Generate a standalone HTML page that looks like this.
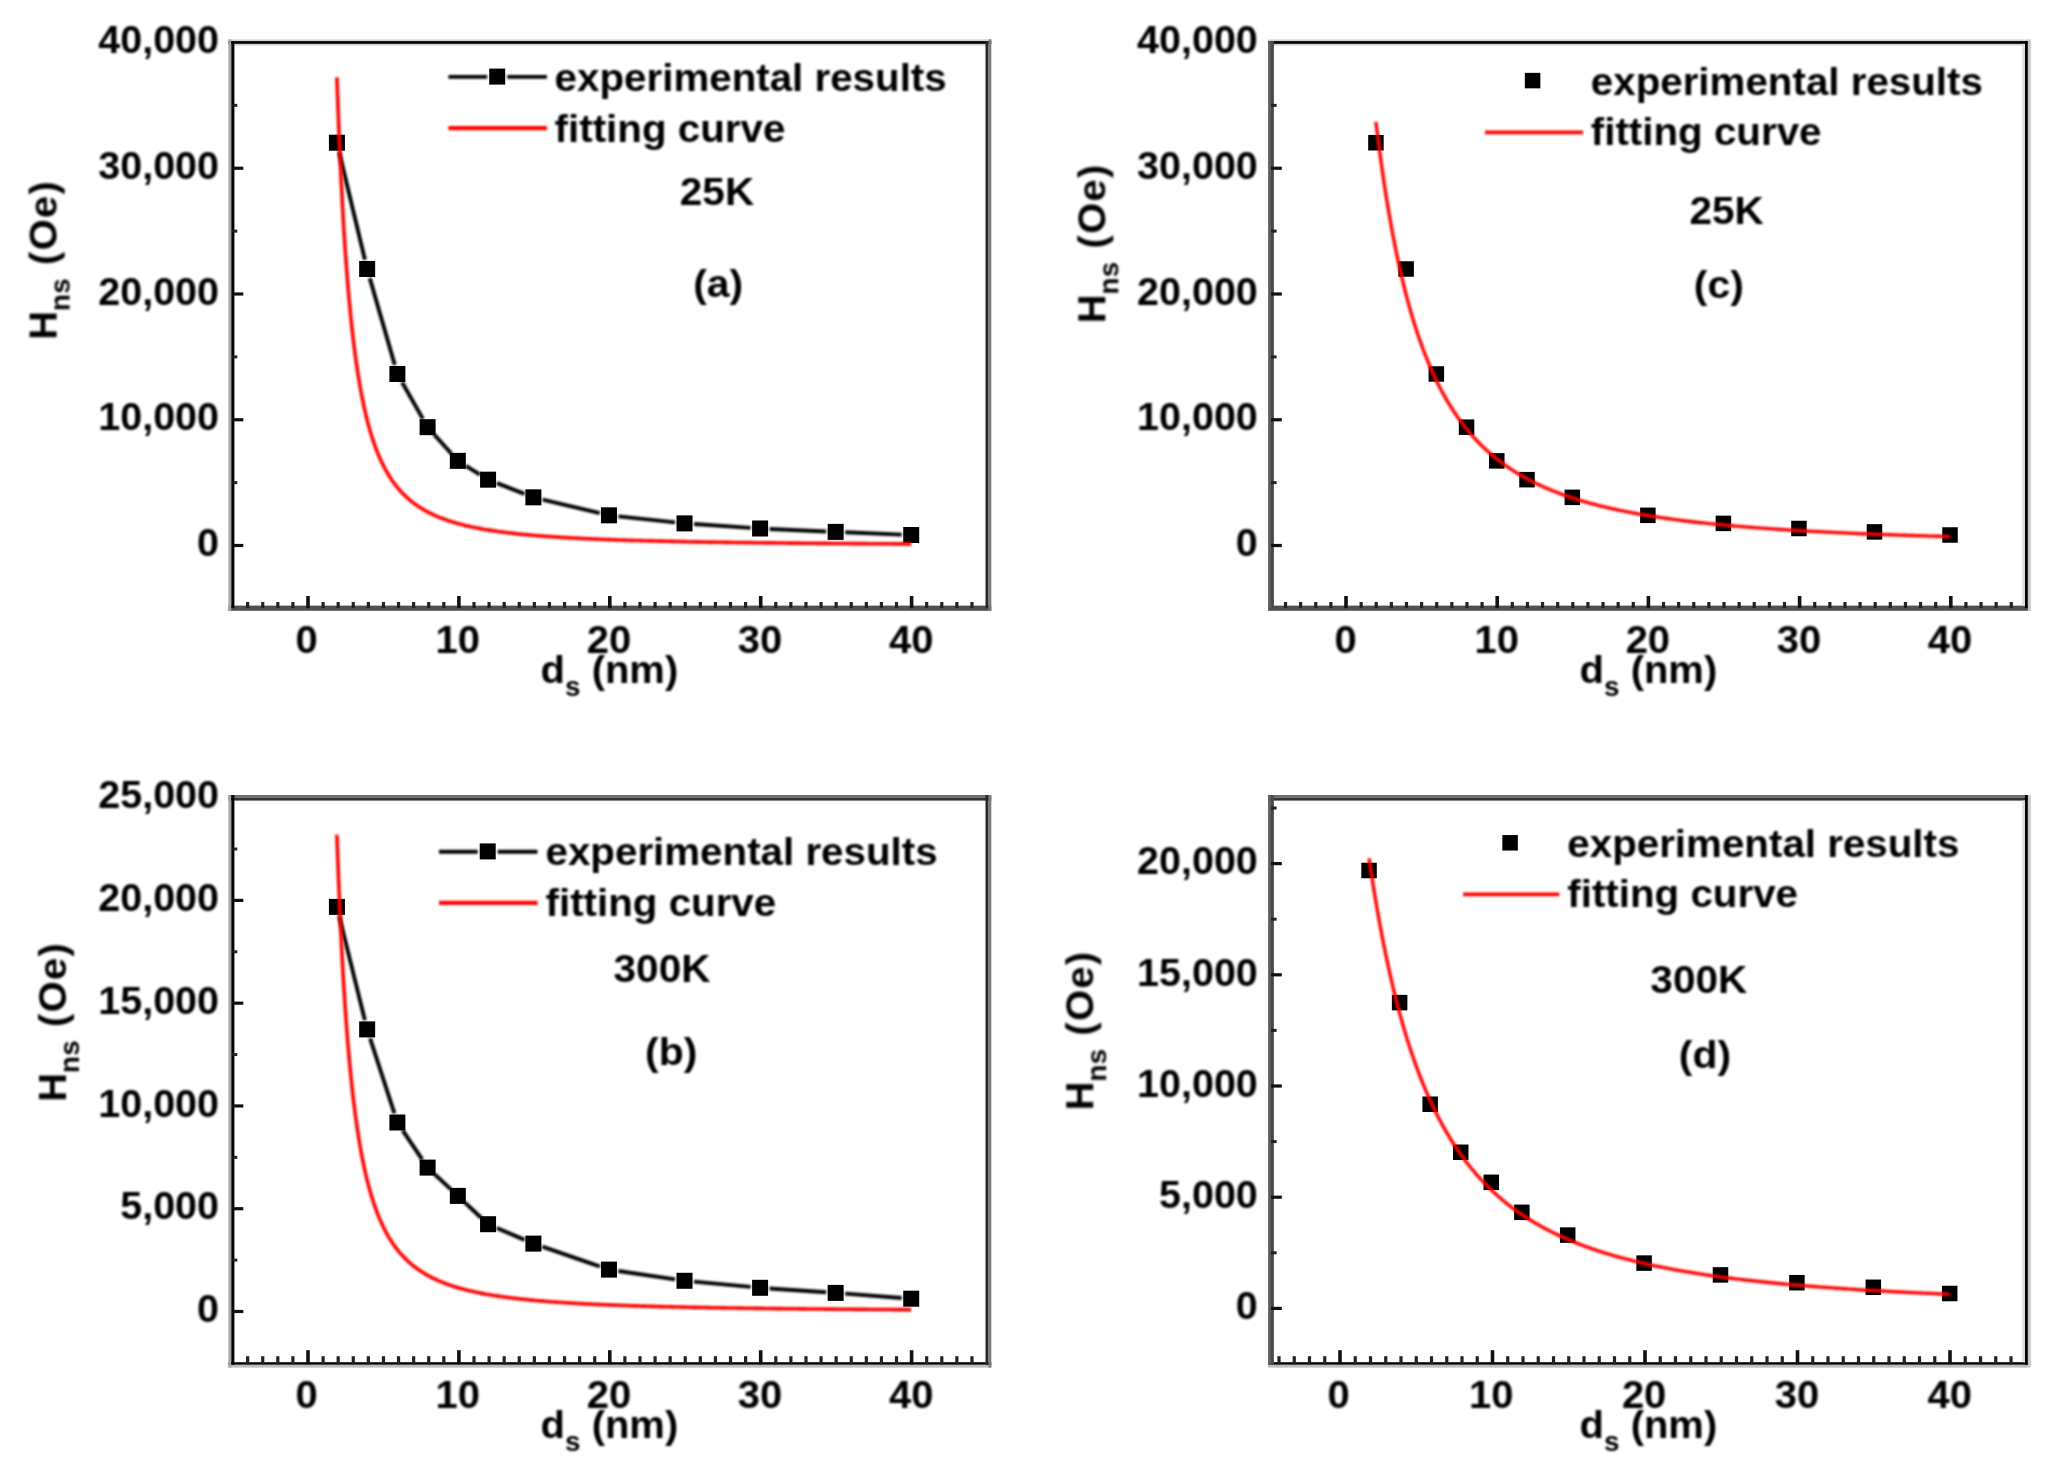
<!DOCTYPE html>
<html lang="en">
<head>
<meta charset="utf-8">
<title>H_ns versus d_s : experimental results and fitting curves</title>
<style>
html,body{margin:0;padding:0;background:#fff;}
body{width:2059px;height:1470px;overflow:hidden;}
svg{display:block;}
svg text{font-family:"Liberation Sans", Arial, Helvetica, sans-serif;font-weight:700;fill:#000;}
.soft{filter:blur(1px);}
</style>
</head>
<body>
<svg width="2059" height="1470" viewBox="0 0 2059 1470">
<rect x="0" y="0" width="2059" height="1470" fill="#ffffff"/>
<g>
<rect x="228.4" y="39.4" width="762.9" height="1.7" fill="#d2d2d2"/>
<rect x="228.4" y="41.1" width="762.9" height="2.8" fill="#000"/>
<rect x="228.4" y="43.9" width="762.9" height="1.7" fill="#d2d2d2"/>
<rect x="228.4" y="605.6" width="762.9" height="5.2" fill="#505050"/>
<rect x="228.4" y="39.4" width="2.9" height="571.4" fill="#a8a8a8"/>
<rect x="231.3" y="41.1" width="3.1" height="567.1" fill="#000"/>
<rect x="985.5" y="41.1" width="3" height="567.1" fill="#262626"/>
<rect x="988.5" y="39.4" width="2.8" height="571.4" fill="#7a7a7a"/>
<line x1="247.64" y1="608.2" x2="247.64" y2="602" stroke="#222" stroke-width="3.2"/>
<line x1="262.73" y1="608.2" x2="262.73" y2="602" stroke="#222" stroke-width="3.2"/>
<line x1="277.82" y1="608.2" x2="277.82" y2="602" stroke="#222" stroke-width="3.2"/>
<line x1="292.91" y1="608.2" x2="292.91" y2="602" stroke="#222" stroke-width="3.2"/>
<line x1="308" y1="608.2" x2="308" y2="596" stroke="#111" stroke-width="3.6"/>
<line x1="323.09" y1="608.2" x2="323.09" y2="602" stroke="#222" stroke-width="3.2"/>
<line x1="338.18" y1="608.2" x2="338.18" y2="602" stroke="#222" stroke-width="3.2"/>
<line x1="353.27" y1="608.2" x2="353.27" y2="602" stroke="#222" stroke-width="3.2"/>
<line x1="368.36" y1="608.2" x2="368.36" y2="602" stroke="#222" stroke-width="3.2"/>
<line x1="383.45" y1="608.2" x2="383.45" y2="602" stroke="#222" stroke-width="3.2"/>
<line x1="398.54" y1="608.2" x2="398.54" y2="602" stroke="#222" stroke-width="3.2"/>
<line x1="413.63" y1="608.2" x2="413.63" y2="602" stroke="#222" stroke-width="3.2"/>
<line x1="428.72" y1="608.2" x2="428.72" y2="602" stroke="#222" stroke-width="3.2"/>
<line x1="443.81" y1="608.2" x2="443.81" y2="602" stroke="#222" stroke-width="3.2"/>
<line x1="458.9" y1="608.2" x2="458.9" y2="596" stroke="#111" stroke-width="3.6"/>
<line x1="473.99" y1="608.2" x2="473.99" y2="602" stroke="#222" stroke-width="3.2"/>
<line x1="489.08" y1="608.2" x2="489.08" y2="602" stroke="#222" stroke-width="3.2"/>
<line x1="504.17" y1="608.2" x2="504.17" y2="602" stroke="#222" stroke-width="3.2"/>
<line x1="519.26" y1="608.2" x2="519.26" y2="602" stroke="#222" stroke-width="3.2"/>
<line x1="534.35" y1="608.2" x2="534.35" y2="602" stroke="#222" stroke-width="3.2"/>
<line x1="549.44" y1="608.2" x2="549.44" y2="602" stroke="#222" stroke-width="3.2"/>
<line x1="564.53" y1="608.2" x2="564.53" y2="602" stroke="#222" stroke-width="3.2"/>
<line x1="579.62" y1="608.2" x2="579.62" y2="602" stroke="#222" stroke-width="3.2"/>
<line x1="594.71" y1="608.2" x2="594.71" y2="602" stroke="#222" stroke-width="3.2"/>
<line x1="609.8" y1="608.2" x2="609.8" y2="596" stroke="#111" stroke-width="3.6"/>
<line x1="624.89" y1="608.2" x2="624.89" y2="602" stroke="#222" stroke-width="3.2"/>
<line x1="639.98" y1="608.2" x2="639.98" y2="602" stroke="#222" stroke-width="3.2"/>
<line x1="655.07" y1="608.2" x2="655.07" y2="602" stroke="#222" stroke-width="3.2"/>
<line x1="670.16" y1="608.2" x2="670.16" y2="602" stroke="#222" stroke-width="3.2"/>
<line x1="685.25" y1="608.2" x2="685.25" y2="602" stroke="#222" stroke-width="3.2"/>
<line x1="700.34" y1="608.2" x2="700.34" y2="602" stroke="#222" stroke-width="3.2"/>
<line x1="715.43" y1="608.2" x2="715.43" y2="602" stroke="#222" stroke-width="3.2"/>
<line x1="730.52" y1="608.2" x2="730.52" y2="602" stroke="#222" stroke-width="3.2"/>
<line x1="745.61" y1="608.2" x2="745.61" y2="602" stroke="#222" stroke-width="3.2"/>
<line x1="760.7" y1="608.2" x2="760.7" y2="596" stroke="#111" stroke-width="3.6"/>
<line x1="775.79" y1="608.2" x2="775.79" y2="602" stroke="#222" stroke-width="3.2"/>
<line x1="790.88" y1="608.2" x2="790.88" y2="602" stroke="#222" stroke-width="3.2"/>
<line x1="805.97" y1="608.2" x2="805.97" y2="602" stroke="#222" stroke-width="3.2"/>
<line x1="821.06" y1="608.2" x2="821.06" y2="602" stroke="#222" stroke-width="3.2"/>
<line x1="836.15" y1="608.2" x2="836.15" y2="602" stroke="#222" stroke-width="3.2"/>
<line x1="851.24" y1="608.2" x2="851.24" y2="602" stroke="#222" stroke-width="3.2"/>
<line x1="866.33" y1="608.2" x2="866.33" y2="602" stroke="#222" stroke-width="3.2"/>
<line x1="881.42" y1="608.2" x2="881.42" y2="602" stroke="#222" stroke-width="3.2"/>
<line x1="896.51" y1="608.2" x2="896.51" y2="602" stroke="#222" stroke-width="3.2"/>
<line x1="911.6" y1="608.2" x2="911.6" y2="596" stroke="#111" stroke-width="3.6"/>
<line x1="926.69" y1="608.2" x2="926.69" y2="602" stroke="#222" stroke-width="3.2"/>
<line x1="941.78" y1="608.2" x2="941.78" y2="602" stroke="#222" stroke-width="3.2"/>
<line x1="956.87" y1="608.2" x2="956.87" y2="602" stroke="#222" stroke-width="3.2"/>
<line x1="971.96" y1="608.2" x2="971.96" y2="602" stroke="#222" stroke-width="3.2"/>
<line x1="232.5" y1="545.5" x2="243.3" y2="545.5" stroke="#111" stroke-width="3.2"/>
<line x1="232.5" y1="482.62" x2="237.3" y2="482.62" stroke="#222" stroke-width="3"/>
<line x1="232.5" y1="419.75" x2="243.3" y2="419.75" stroke="#111" stroke-width="3.2"/>
<line x1="232.5" y1="356.88" x2="237.3" y2="356.88" stroke="#222" stroke-width="3"/>
<line x1="232.5" y1="294" x2="243.3" y2="294" stroke="#111" stroke-width="3.2"/>
<line x1="232.5" y1="231.12" x2="237.3" y2="231.12" stroke="#222" stroke-width="3"/>
<line x1="232.5" y1="168.25" x2="243.3" y2="168.25" stroke="#111" stroke-width="3.2"/>
<line x1="232.5" y1="105.38" x2="237.3" y2="105.38" stroke="#222" stroke-width="3"/>
<rect x="228.4" y="795" width="762.9" height="2.8" fill="#6c6c6c"/>
<rect x="228.4" y="797.8" width="762.9" height="2.8" fill="#323232"/>
<rect x="228.4" y="1362.2" width="762.9" height="2.6" fill="#000"/>
<rect x="228.4" y="1364.8" width="762.9" height="2.8" fill="#bdbdbd"/>
<rect x="228.4" y="795" width="2.9" height="572.6" fill="#a8a8a8"/>
<rect x="231.3" y="795" width="3.1" height="569.8" fill="#000"/>
<rect x="985.5" y="795" width="3" height="569.8" fill="#262626"/>
<rect x="988.5" y="795" width="2.8" height="572.6" fill="#7a7a7a"/>
<line x1="247.64" y1="1364.3" x2="247.64" y2="1356.2" stroke="#222" stroke-width="3.2"/>
<line x1="262.73" y1="1364.3" x2="262.73" y2="1356.2" stroke="#222" stroke-width="3.2"/>
<line x1="277.82" y1="1364.3" x2="277.82" y2="1356.2" stroke="#222" stroke-width="3.2"/>
<line x1="292.91" y1="1364.3" x2="292.91" y2="1356.2" stroke="#222" stroke-width="3.2"/>
<line x1="308" y1="1364.3" x2="308" y2="1350.2" stroke="#111" stroke-width="3.6"/>
<line x1="323.09" y1="1364.3" x2="323.09" y2="1356.2" stroke="#222" stroke-width="3.2"/>
<line x1="338.18" y1="1364.3" x2="338.18" y2="1356.2" stroke="#222" stroke-width="3.2"/>
<line x1="353.27" y1="1364.3" x2="353.27" y2="1356.2" stroke="#222" stroke-width="3.2"/>
<line x1="368.36" y1="1364.3" x2="368.36" y2="1356.2" stroke="#222" stroke-width="3.2"/>
<line x1="383.45" y1="1364.3" x2="383.45" y2="1356.2" stroke="#222" stroke-width="3.2"/>
<line x1="398.54" y1="1364.3" x2="398.54" y2="1356.2" stroke="#222" stroke-width="3.2"/>
<line x1="413.63" y1="1364.3" x2="413.63" y2="1356.2" stroke="#222" stroke-width="3.2"/>
<line x1="428.72" y1="1364.3" x2="428.72" y2="1356.2" stroke="#222" stroke-width="3.2"/>
<line x1="443.81" y1="1364.3" x2="443.81" y2="1356.2" stroke="#222" stroke-width="3.2"/>
<line x1="458.9" y1="1364.3" x2="458.9" y2="1350.2" stroke="#111" stroke-width="3.6"/>
<line x1="473.99" y1="1364.3" x2="473.99" y2="1356.2" stroke="#222" stroke-width="3.2"/>
<line x1="489.08" y1="1364.3" x2="489.08" y2="1356.2" stroke="#222" stroke-width="3.2"/>
<line x1="504.17" y1="1364.3" x2="504.17" y2="1356.2" stroke="#222" stroke-width="3.2"/>
<line x1="519.26" y1="1364.3" x2="519.26" y2="1356.2" stroke="#222" stroke-width="3.2"/>
<line x1="534.35" y1="1364.3" x2="534.35" y2="1356.2" stroke="#222" stroke-width="3.2"/>
<line x1="549.44" y1="1364.3" x2="549.44" y2="1356.2" stroke="#222" stroke-width="3.2"/>
<line x1="564.53" y1="1364.3" x2="564.53" y2="1356.2" stroke="#222" stroke-width="3.2"/>
<line x1="579.62" y1="1364.3" x2="579.62" y2="1356.2" stroke="#222" stroke-width="3.2"/>
<line x1="594.71" y1="1364.3" x2="594.71" y2="1356.2" stroke="#222" stroke-width="3.2"/>
<line x1="609.8" y1="1364.3" x2="609.8" y2="1350.2" stroke="#111" stroke-width="3.6"/>
<line x1="624.89" y1="1364.3" x2="624.89" y2="1356.2" stroke="#222" stroke-width="3.2"/>
<line x1="639.98" y1="1364.3" x2="639.98" y2="1356.2" stroke="#222" stroke-width="3.2"/>
<line x1="655.07" y1="1364.3" x2="655.07" y2="1356.2" stroke="#222" stroke-width="3.2"/>
<line x1="670.16" y1="1364.3" x2="670.16" y2="1356.2" stroke="#222" stroke-width="3.2"/>
<line x1="685.25" y1="1364.3" x2="685.25" y2="1356.2" stroke="#222" stroke-width="3.2"/>
<line x1="700.34" y1="1364.3" x2="700.34" y2="1356.2" stroke="#222" stroke-width="3.2"/>
<line x1="715.43" y1="1364.3" x2="715.43" y2="1356.2" stroke="#222" stroke-width="3.2"/>
<line x1="730.52" y1="1364.3" x2="730.52" y2="1356.2" stroke="#222" stroke-width="3.2"/>
<line x1="745.61" y1="1364.3" x2="745.61" y2="1356.2" stroke="#222" stroke-width="3.2"/>
<line x1="760.7" y1="1364.3" x2="760.7" y2="1350.2" stroke="#111" stroke-width="3.6"/>
<line x1="775.79" y1="1364.3" x2="775.79" y2="1356.2" stroke="#222" stroke-width="3.2"/>
<line x1="790.88" y1="1364.3" x2="790.88" y2="1356.2" stroke="#222" stroke-width="3.2"/>
<line x1="805.97" y1="1364.3" x2="805.97" y2="1356.2" stroke="#222" stroke-width="3.2"/>
<line x1="821.06" y1="1364.3" x2="821.06" y2="1356.2" stroke="#222" stroke-width="3.2"/>
<line x1="836.15" y1="1364.3" x2="836.15" y2="1356.2" stroke="#222" stroke-width="3.2"/>
<line x1="851.24" y1="1364.3" x2="851.24" y2="1356.2" stroke="#222" stroke-width="3.2"/>
<line x1="866.33" y1="1364.3" x2="866.33" y2="1356.2" stroke="#222" stroke-width="3.2"/>
<line x1="881.42" y1="1364.3" x2="881.42" y2="1356.2" stroke="#222" stroke-width="3.2"/>
<line x1="896.51" y1="1364.3" x2="896.51" y2="1356.2" stroke="#222" stroke-width="3.2"/>
<line x1="911.6" y1="1364.3" x2="911.6" y2="1350.2" stroke="#111" stroke-width="3.6"/>
<line x1="926.69" y1="1364.3" x2="926.69" y2="1356.2" stroke="#222" stroke-width="3.2"/>
<line x1="941.78" y1="1364.3" x2="941.78" y2="1356.2" stroke="#222" stroke-width="3.2"/>
<line x1="956.87" y1="1364.3" x2="956.87" y2="1356.2" stroke="#222" stroke-width="3.2"/>
<line x1="971.96" y1="1364.3" x2="971.96" y2="1356.2" stroke="#222" stroke-width="3.2"/>
<line x1="232.5" y1="1311.5" x2="243.3" y2="1311.5" stroke="#111" stroke-width="3.2"/>
<line x1="232.5" y1="1260.11" x2="237.3" y2="1260.11" stroke="#222" stroke-width="3"/>
<line x1="232.5" y1="1208.72" x2="243.3" y2="1208.72" stroke="#111" stroke-width="3.2"/>
<line x1="232.5" y1="1157.34" x2="237.3" y2="1157.34" stroke="#222" stroke-width="3"/>
<line x1="232.5" y1="1105.95" x2="243.3" y2="1105.95" stroke="#111" stroke-width="3.2"/>
<line x1="232.5" y1="1054.56" x2="237.3" y2="1054.56" stroke="#222" stroke-width="3"/>
<line x1="232.5" y1="1003.17" x2="243.3" y2="1003.17" stroke="#111" stroke-width="3.2"/>
<line x1="232.5" y1="951.79" x2="237.3" y2="951.79" stroke="#222" stroke-width="3"/>
<line x1="232.5" y1="900.4" x2="243.3" y2="900.4" stroke="#111" stroke-width="3.2"/>
<line x1="232.5" y1="849.01" x2="237.3" y2="849.01" stroke="#222" stroke-width="3"/>
<rect x="1268.1" y="39.4" width="759.9" height="1.7" fill="#d2d2d2"/>
<rect x="1268.1" y="41.1" width="759.9" height="2.8" fill="#000"/>
<rect x="1268.1" y="43.9" width="759.9" height="1.7" fill="#d2d2d2"/>
<rect x="1268.1" y="605.6" width="759.9" height="5.2" fill="#505050"/>
<rect x="1268.1" y="41.1" width="2.9" height="567.1" fill="#5e5e5e"/>
<rect x="1271" y="41.1" width="2.9" height="567.1" fill="#4a4a4a"/>
<rect x="2022.1" y="43.9" width="2.9" height="561.7" fill="#dedede"/>
<rect x="2025" y="41.1" width="2.9" height="567.1" fill="#000"/>
<rect x="2027.9" y="39.4" width="2.9" height="571.4" fill="#c8c8c8"/>
<line x1="1285.52" y1="608.2" x2="1285.52" y2="602" stroke="#222" stroke-width="3.2"/>
<line x1="1300.64" y1="608.2" x2="1300.64" y2="602" stroke="#222" stroke-width="3.2"/>
<line x1="1315.76" y1="608.2" x2="1315.76" y2="602" stroke="#222" stroke-width="3.2"/>
<line x1="1330.88" y1="608.2" x2="1330.88" y2="602" stroke="#222" stroke-width="3.2"/>
<line x1="1346" y1="608.2" x2="1346" y2="596" stroke="#111" stroke-width="3.6"/>
<line x1="1361.12" y1="608.2" x2="1361.12" y2="602" stroke="#222" stroke-width="3.2"/>
<line x1="1376.24" y1="608.2" x2="1376.24" y2="602" stroke="#222" stroke-width="3.2"/>
<line x1="1391.36" y1="608.2" x2="1391.36" y2="602" stroke="#222" stroke-width="3.2"/>
<line x1="1406.48" y1="608.2" x2="1406.48" y2="602" stroke="#222" stroke-width="3.2"/>
<line x1="1421.6" y1="608.2" x2="1421.6" y2="602" stroke="#222" stroke-width="3.2"/>
<line x1="1436.72" y1="608.2" x2="1436.72" y2="602" stroke="#222" stroke-width="3.2"/>
<line x1="1451.84" y1="608.2" x2="1451.84" y2="602" stroke="#222" stroke-width="3.2"/>
<line x1="1466.96" y1="608.2" x2="1466.96" y2="602" stroke="#222" stroke-width="3.2"/>
<line x1="1482.08" y1="608.2" x2="1482.08" y2="602" stroke="#222" stroke-width="3.2"/>
<line x1="1497.2" y1="608.2" x2="1497.2" y2="596" stroke="#111" stroke-width="3.6"/>
<line x1="1512.32" y1="608.2" x2="1512.32" y2="602" stroke="#222" stroke-width="3.2"/>
<line x1="1527.44" y1="608.2" x2="1527.44" y2="602" stroke="#222" stroke-width="3.2"/>
<line x1="1542.56" y1="608.2" x2="1542.56" y2="602" stroke="#222" stroke-width="3.2"/>
<line x1="1557.68" y1="608.2" x2="1557.68" y2="602" stroke="#222" stroke-width="3.2"/>
<line x1="1572.8" y1="608.2" x2="1572.8" y2="602" stroke="#222" stroke-width="3.2"/>
<line x1="1587.92" y1="608.2" x2="1587.92" y2="602" stroke="#222" stroke-width="3.2"/>
<line x1="1603.04" y1="608.2" x2="1603.04" y2="602" stroke="#222" stroke-width="3.2"/>
<line x1="1618.16" y1="608.2" x2="1618.16" y2="602" stroke="#222" stroke-width="3.2"/>
<line x1="1633.28" y1="608.2" x2="1633.28" y2="602" stroke="#222" stroke-width="3.2"/>
<line x1="1648.4" y1="608.2" x2="1648.4" y2="596" stroke="#111" stroke-width="3.6"/>
<line x1="1663.52" y1="608.2" x2="1663.52" y2="602" stroke="#222" stroke-width="3.2"/>
<line x1="1678.64" y1="608.2" x2="1678.64" y2="602" stroke="#222" stroke-width="3.2"/>
<line x1="1693.76" y1="608.2" x2="1693.76" y2="602" stroke="#222" stroke-width="3.2"/>
<line x1="1708.88" y1="608.2" x2="1708.88" y2="602" stroke="#222" stroke-width="3.2"/>
<line x1="1724" y1="608.2" x2="1724" y2="602" stroke="#222" stroke-width="3.2"/>
<line x1="1739.12" y1="608.2" x2="1739.12" y2="602" stroke="#222" stroke-width="3.2"/>
<line x1="1754.24" y1="608.2" x2="1754.24" y2="602" stroke="#222" stroke-width="3.2"/>
<line x1="1769.36" y1="608.2" x2="1769.36" y2="602" stroke="#222" stroke-width="3.2"/>
<line x1="1784.48" y1="608.2" x2="1784.48" y2="602" stroke="#222" stroke-width="3.2"/>
<line x1="1799.6" y1="608.2" x2="1799.6" y2="596" stroke="#111" stroke-width="3.6"/>
<line x1="1814.72" y1="608.2" x2="1814.72" y2="602" stroke="#222" stroke-width="3.2"/>
<line x1="1829.84" y1="608.2" x2="1829.84" y2="602" stroke="#222" stroke-width="3.2"/>
<line x1="1844.96" y1="608.2" x2="1844.96" y2="602" stroke="#222" stroke-width="3.2"/>
<line x1="1860.08" y1="608.2" x2="1860.08" y2="602" stroke="#222" stroke-width="3.2"/>
<line x1="1875.2" y1="608.2" x2="1875.2" y2="602" stroke="#222" stroke-width="3.2"/>
<line x1="1890.32" y1="608.2" x2="1890.32" y2="602" stroke="#222" stroke-width="3.2"/>
<line x1="1905.44" y1="608.2" x2="1905.44" y2="602" stroke="#222" stroke-width="3.2"/>
<line x1="1920.56" y1="608.2" x2="1920.56" y2="602" stroke="#222" stroke-width="3.2"/>
<line x1="1935.68" y1="608.2" x2="1935.68" y2="602" stroke="#222" stroke-width="3.2"/>
<line x1="1950.8" y1="608.2" x2="1950.8" y2="596" stroke="#111" stroke-width="3.6"/>
<line x1="1965.92" y1="608.2" x2="1965.92" y2="602" stroke="#222" stroke-width="3.2"/>
<line x1="1981.04" y1="608.2" x2="1981.04" y2="602" stroke="#222" stroke-width="3.2"/>
<line x1="1996.16" y1="608.2" x2="1996.16" y2="602" stroke="#222" stroke-width="3.2"/>
<line x1="2011.28" y1="608.2" x2="2011.28" y2="602" stroke="#222" stroke-width="3.2"/>
<line x1="1271" y1="545.5" x2="1281.8" y2="545.5" stroke="#111" stroke-width="3.2"/>
<line x1="1271" y1="482.62" x2="1276.6" y2="482.62" stroke="#222" stroke-width="3"/>
<line x1="1271" y1="419.75" x2="1281.8" y2="419.75" stroke="#111" stroke-width="3.2"/>
<line x1="1271" y1="356.88" x2="1276.6" y2="356.88" stroke="#222" stroke-width="3"/>
<line x1="1271" y1="294" x2="1281.8" y2="294" stroke="#111" stroke-width="3.2"/>
<line x1="1271" y1="231.12" x2="1276.6" y2="231.12" stroke="#222" stroke-width="3"/>
<line x1="1271" y1="168.25" x2="1281.8" y2="168.25" stroke="#111" stroke-width="3.2"/>
<line x1="1271" y1="105.38" x2="1276.6" y2="105.38" stroke="#222" stroke-width="3"/>
<rect x="1268.1" y="795" width="759.9" height="2.8" fill="#6c6c6c"/>
<rect x="1268.1" y="797.8" width="759.9" height="2.8" fill="#323232"/>
<rect x="1268.1" y="1362.2" width="759.9" height="2.6" fill="#000"/>
<rect x="1268.1" y="1364.8" width="759.9" height="2.8" fill="#bdbdbd"/>
<rect x="1268.1" y="795" width="2.9" height="569.8" fill="#5e5e5e"/>
<rect x="1271" y="795" width="2.9" height="569.8" fill="#4a4a4a"/>
<rect x="2022.1" y="800.6" width="2.9" height="561.6" fill="#dedede"/>
<rect x="2025" y="795" width="2.9" height="569.8" fill="#000"/>
<rect x="2027.9" y="795" width="2.9" height="572.6" fill="#c8c8c8"/>
<line x1="1279" y1="1364.3" x2="1279" y2="1356.2" stroke="#222" stroke-width="3.2"/>
<line x1="1294.25" y1="1364.3" x2="1294.25" y2="1356.2" stroke="#222" stroke-width="3.2"/>
<line x1="1309.5" y1="1364.3" x2="1309.5" y2="1356.2" stroke="#222" stroke-width="3.2"/>
<line x1="1324.75" y1="1364.3" x2="1324.75" y2="1356.2" stroke="#222" stroke-width="3.2"/>
<line x1="1340" y1="1364.3" x2="1340" y2="1350.2" stroke="#111" stroke-width="3.6"/>
<line x1="1355.25" y1="1364.3" x2="1355.25" y2="1356.2" stroke="#222" stroke-width="3.2"/>
<line x1="1370.5" y1="1364.3" x2="1370.5" y2="1356.2" stroke="#222" stroke-width="3.2"/>
<line x1="1385.75" y1="1364.3" x2="1385.75" y2="1356.2" stroke="#222" stroke-width="3.2"/>
<line x1="1401" y1="1364.3" x2="1401" y2="1356.2" stroke="#222" stroke-width="3.2"/>
<line x1="1416.25" y1="1364.3" x2="1416.25" y2="1356.2" stroke="#222" stroke-width="3.2"/>
<line x1="1431.5" y1="1364.3" x2="1431.5" y2="1356.2" stroke="#222" stroke-width="3.2"/>
<line x1="1446.75" y1="1364.3" x2="1446.75" y2="1356.2" stroke="#222" stroke-width="3.2"/>
<line x1="1462" y1="1364.3" x2="1462" y2="1356.2" stroke="#222" stroke-width="3.2"/>
<line x1="1477.25" y1="1364.3" x2="1477.25" y2="1356.2" stroke="#222" stroke-width="3.2"/>
<line x1="1492.5" y1="1364.3" x2="1492.5" y2="1350.2" stroke="#111" stroke-width="3.6"/>
<line x1="1507.75" y1="1364.3" x2="1507.75" y2="1356.2" stroke="#222" stroke-width="3.2"/>
<line x1="1523" y1="1364.3" x2="1523" y2="1356.2" stroke="#222" stroke-width="3.2"/>
<line x1="1538.25" y1="1364.3" x2="1538.25" y2="1356.2" stroke="#222" stroke-width="3.2"/>
<line x1="1553.5" y1="1364.3" x2="1553.5" y2="1356.2" stroke="#222" stroke-width="3.2"/>
<line x1="1568.75" y1="1364.3" x2="1568.75" y2="1356.2" stroke="#222" stroke-width="3.2"/>
<line x1="1584" y1="1364.3" x2="1584" y2="1356.2" stroke="#222" stroke-width="3.2"/>
<line x1="1599.25" y1="1364.3" x2="1599.25" y2="1356.2" stroke="#222" stroke-width="3.2"/>
<line x1="1614.5" y1="1364.3" x2="1614.5" y2="1356.2" stroke="#222" stroke-width="3.2"/>
<line x1="1629.75" y1="1364.3" x2="1629.75" y2="1356.2" stroke="#222" stroke-width="3.2"/>
<line x1="1645" y1="1364.3" x2="1645" y2="1350.2" stroke="#111" stroke-width="3.6"/>
<line x1="1660.25" y1="1364.3" x2="1660.25" y2="1356.2" stroke="#222" stroke-width="3.2"/>
<line x1="1675.5" y1="1364.3" x2="1675.5" y2="1356.2" stroke="#222" stroke-width="3.2"/>
<line x1="1690.75" y1="1364.3" x2="1690.75" y2="1356.2" stroke="#222" stroke-width="3.2"/>
<line x1="1706" y1="1364.3" x2="1706" y2="1356.2" stroke="#222" stroke-width="3.2"/>
<line x1="1721.25" y1="1364.3" x2="1721.25" y2="1356.2" stroke="#222" stroke-width="3.2"/>
<line x1="1736.5" y1="1364.3" x2="1736.5" y2="1356.2" stroke="#222" stroke-width="3.2"/>
<line x1="1751.75" y1="1364.3" x2="1751.75" y2="1356.2" stroke="#222" stroke-width="3.2"/>
<line x1="1767" y1="1364.3" x2="1767" y2="1356.2" stroke="#222" stroke-width="3.2"/>
<line x1="1782.25" y1="1364.3" x2="1782.25" y2="1356.2" stroke="#222" stroke-width="3.2"/>
<line x1="1797.5" y1="1364.3" x2="1797.5" y2="1350.2" stroke="#111" stroke-width="3.6"/>
<line x1="1812.75" y1="1364.3" x2="1812.75" y2="1356.2" stroke="#222" stroke-width="3.2"/>
<line x1="1828" y1="1364.3" x2="1828" y2="1356.2" stroke="#222" stroke-width="3.2"/>
<line x1="1843.25" y1="1364.3" x2="1843.25" y2="1356.2" stroke="#222" stroke-width="3.2"/>
<line x1="1858.5" y1="1364.3" x2="1858.5" y2="1356.2" stroke="#222" stroke-width="3.2"/>
<line x1="1873.75" y1="1364.3" x2="1873.75" y2="1356.2" stroke="#222" stroke-width="3.2"/>
<line x1="1889" y1="1364.3" x2="1889" y2="1356.2" stroke="#222" stroke-width="3.2"/>
<line x1="1904.25" y1="1364.3" x2="1904.25" y2="1356.2" stroke="#222" stroke-width="3.2"/>
<line x1="1919.5" y1="1364.3" x2="1919.5" y2="1356.2" stroke="#222" stroke-width="3.2"/>
<line x1="1934.75" y1="1364.3" x2="1934.75" y2="1356.2" stroke="#222" stroke-width="3.2"/>
<line x1="1950" y1="1364.3" x2="1950" y2="1350.2" stroke="#111" stroke-width="3.6"/>
<line x1="1965.25" y1="1364.3" x2="1965.25" y2="1356.2" stroke="#222" stroke-width="3.2"/>
<line x1="1980.5" y1="1364.3" x2="1980.5" y2="1356.2" stroke="#222" stroke-width="3.2"/>
<line x1="1995.75" y1="1364.3" x2="1995.75" y2="1356.2" stroke="#222" stroke-width="3.2"/>
<line x1="2011" y1="1364.3" x2="2011" y2="1356.2" stroke="#222" stroke-width="3.2"/>
<line x1="1271" y1="1308.4" x2="1281.8" y2="1308.4" stroke="#111" stroke-width="3.2"/>
<line x1="1271" y1="1252.8" x2="1276.6" y2="1252.8" stroke="#222" stroke-width="3"/>
<line x1="1271" y1="1197.2" x2="1281.8" y2="1197.2" stroke="#111" stroke-width="3.2"/>
<line x1="1271" y1="1141.6" x2="1276.6" y2="1141.6" stroke="#222" stroke-width="3"/>
<line x1="1271" y1="1086" x2="1281.8" y2="1086" stroke="#111" stroke-width="3.2"/>
<line x1="1271" y1="1030.4" x2="1276.6" y2="1030.4" stroke="#222" stroke-width="3"/>
<line x1="1271" y1="974.8" x2="1281.8" y2="974.8" stroke="#111" stroke-width="3.2"/>
<line x1="1271" y1="919.2" x2="1276.6" y2="919.2" stroke="#222" stroke-width="3"/>
<line x1="1271" y1="863.6" x2="1281.8" y2="863.6" stroke="#111" stroke-width="3.2"/>
<line x1="1271" y1="808" x2="1276.6" y2="808" stroke="#222" stroke-width="3"/>
</g>
<g class="soft">
<text transform="translate(219,556.2) scale(1.012,1)" text-anchor="end" font-size="39">0</text>
<text transform="translate(219,430.45) scale(1.012,1)" text-anchor="end" font-size="39">10,000</text>
<text transform="translate(219,304.7) scale(1.012,1)" text-anchor="end" font-size="39">20,000</text>
<text transform="translate(219,178.95) scale(1.012,1)" text-anchor="end" font-size="39">30,000</text>
<text transform="translate(219,53.2) scale(1.012,1)" text-anchor="end" font-size="39">40,000</text>
<text transform="translate(306.7,653) scale(1.025,1)" text-anchor="middle" font-size="39">0</text>
<text transform="translate(457.83,653) scale(1.025,1)" text-anchor="middle" font-size="39">10</text>
<text transform="translate(608.96,653) scale(1.025,1)" text-anchor="middle" font-size="39">20</text>
<text transform="translate(760.09,653) scale(1.025,1)" text-anchor="middle" font-size="39">30</text>
<text transform="translate(911.22,653) scale(1.025,1)" text-anchor="middle" font-size="39">40</text>
<text transform="translate(540.6,683.4) scale(1.025,1)" font-size="39">d<tspan font-size="27.2" dy="13">s</tspan><tspan dy="-13"> (nm)</tspan></text>
<text transform="translate(56.6,339.8) rotate(-90) scale(1.025,1)" font-size="39">H<tspan font-size="27.2" dy="13">ns</tspan><tspan dy="-13" dx="1" letter-spacing="1.25"> (Oe)</tspan></text>
<line x1="339.14" y1="151.96" x2="364.94" y2="259.74" stroke="#000" stroke-width="3.9"/>
<line x1="369.78" y1="278.11" x2="394.75" y2="364.85" stroke="#000" stroke-width="3.9"/>
<line x1="402.07" y1="382.24" x2="422.91" y2="418.91" stroke="#000" stroke-width="3.9"/>
<line x1="433.95" y1="434.24" x2="451.49" y2="453.8" stroke="#000" stroke-width="3.9"/>
<line x1="465.9" y1="465.89" x2="479.99" y2="474.65" stroke="#000" stroke-width="3.9"/>
<line x1="496.91" y1="483.12" x2="524.54" y2="493.89" stroke="#000" stroke-width="3.9"/>
<line x1="542.64" y1="499.54" x2="599.72" y2="513.12" stroke="#000" stroke-width="3.9"/>
<line x1="618.41" y1="516.33" x2="675.08" y2="522.38" stroke="#000" stroke-width="3.9"/>
<line x1="694" y1="524.03" x2="750.61" y2="527.86" stroke="#000" stroke-width="3.9"/>
<line x1="769.58" y1="528.93" x2="826.16" y2="531.47" stroke="#000" stroke-width="3.9"/>
<line x1="845.15" y1="532.28" x2="901.73" y2="534.61" stroke="#000" stroke-width="3.9"/>
<line x1="448.4" y1="76.9" x2="487.2" y2="76.9" stroke="#000" stroke-width="3.9"/>
<line x1="507.2" y1="76.9" x2="546.9" y2="76.9" stroke="#000" stroke-width="3.9"/>
<text transform="translate(219,1322.2) scale(1.012,1)" text-anchor="end" font-size="39">0</text>
<text transform="translate(219,1219.42) scale(1.012,1)" text-anchor="end" font-size="39">5,000</text>
<text transform="translate(219,1116.65) scale(1.012,1)" text-anchor="end" font-size="39">10,000</text>
<text transform="translate(219,1013.88) scale(1.012,1)" text-anchor="end" font-size="39">15,000</text>
<text transform="translate(219,911.1) scale(1.012,1)" text-anchor="end" font-size="39">20,000</text>
<text transform="translate(219,808.33) scale(1.012,1)" text-anchor="end" font-size="39">25,000</text>
<text transform="translate(306.7,1407.7) scale(1.025,1)" text-anchor="middle" font-size="39">0</text>
<text transform="translate(457.83,1407.7) scale(1.025,1)" text-anchor="middle" font-size="39">10</text>
<text transform="translate(608.96,1407.7) scale(1.025,1)" text-anchor="middle" font-size="39">20</text>
<text transform="translate(760.09,1407.7) scale(1.025,1)" text-anchor="middle" font-size="39">30</text>
<text transform="translate(911.22,1407.7) scale(1.025,1)" text-anchor="middle" font-size="39">40</text>
<text transform="translate(540.6,1438.4) scale(1.025,1)" font-size="39">d<tspan font-size="27.2" dy="13">s</tspan><tspan dy="-13"> (nm)</tspan></text>
<text transform="translate(66,1101.8) rotate(-90) scale(1.025,1)" font-size="39">H<tspan font-size="27.2" dy="13">ns</tspan><tspan dy="-13" dx="1" letter-spacing="1.25"> (Oe)</tspan></text>
<line x1="339.2" y1="916.12" x2="364.88" y2="1020.18" stroke="#000" stroke-width="3.9"/>
<line x1="370.09" y1="1038.44" x2="394.44" y2="1113.46" stroke="#000" stroke-width="3.9"/>
<line x1="402.67" y1="1130.39" x2="422.31" y2="1159.7" stroke="#000" stroke-width="3.9"/>
<line x1="434.54" y1="1174.09" x2="450.9" y2="1189.41" stroke="#000" stroke-width="3.9"/>
<line x1="464.76" y1="1202.39" x2="481.12" y2="1217.71" stroke="#000" stroke-width="3.9"/>
<line x1="496.79" y1="1227.94" x2="524.66" y2="1239.87" stroke="#000" stroke-width="3.9"/>
<line x1="542.38" y1="1246.7" x2="599.98" y2="1266.52" stroke="#000" stroke-width="3.9"/>
<line x1="618.36" y1="1271" x2="675.13" y2="1279.4" stroke="#000" stroke-width="3.9"/>
<line x1="693.98" y1="1281.67" x2="750.63" y2="1286.92" stroke="#000" stroke-width="3.9"/>
<line x1="769.57" y1="1288.44" x2="826.18" y2="1292.26" stroke="#000" stroke-width="3.9"/>
<line x1="845.13" y1="1293.62" x2="901.75" y2="1297.97" stroke="#000" stroke-width="3.9"/>
<line x1="439" y1="851.7" x2="477.7" y2="851.7" stroke="#000" stroke-width="3.9"/>
<line x1="497.7" y1="851.7" x2="537.5" y2="851.7" stroke="#000" stroke-width="3.9"/>
<text transform="translate(1257.8,556.2) scale(1.012,1)" text-anchor="end" font-size="39">0</text>
<text transform="translate(1257.8,430.45) scale(1.012,1)" text-anchor="end" font-size="39">10,000</text>
<text transform="translate(1257.8,304.7) scale(1.012,1)" text-anchor="end" font-size="39">20,000</text>
<text transform="translate(1257.8,178.95) scale(1.012,1)" text-anchor="end" font-size="39">30,000</text>
<text transform="translate(1257.8,53.2) scale(1.012,1)" text-anchor="end" font-size="39">40,000</text>
<text transform="translate(1345.7,653) scale(1.025,1)" text-anchor="middle" font-size="39">0</text>
<text transform="translate(1496.78,653) scale(1.025,1)" text-anchor="middle" font-size="39">10</text>
<text transform="translate(1647.86,653) scale(1.025,1)" text-anchor="middle" font-size="39">20</text>
<text transform="translate(1798.94,653) scale(1.025,1)" text-anchor="middle" font-size="39">30</text>
<text transform="translate(1950.02,653) scale(1.025,1)" text-anchor="middle" font-size="39">40</text>
<text transform="translate(1579.6,683.4) scale(1.025,1)" font-size="39">d<tspan font-size="27.2" dy="13">s</tspan><tspan dy="-13"> (nm)</tspan></text>
<text transform="translate(1105.3,323.3) rotate(-90) scale(1.025,1)" font-size="39">H<tspan font-size="27.2" dy="13">ns</tspan><tspan dy="-13" dx="1" letter-spacing="1.25"> (Oe)</tspan></text>
<text transform="translate(1257.8,1319.1) scale(1.012,1)" text-anchor="end" font-size="39">0</text>
<text transform="translate(1257.8,1207.9) scale(1.012,1)" text-anchor="end" font-size="39">5,000</text>
<text transform="translate(1257.8,1096.7) scale(1.012,1)" text-anchor="end" font-size="39">10,000</text>
<text transform="translate(1257.8,985.5) scale(1.012,1)" text-anchor="end" font-size="39">15,000</text>
<text transform="translate(1257.8,874.3) scale(1.012,1)" text-anchor="end" font-size="39">20,000</text>
<text transform="translate(1338.5,1407.7) scale(1.025,1)" text-anchor="middle" font-size="39">0</text>
<text transform="translate(1491.3,1407.7) scale(1.025,1)" text-anchor="middle" font-size="39">10</text>
<text transform="translate(1644.1,1407.7) scale(1.025,1)" text-anchor="middle" font-size="39">20</text>
<text transform="translate(1796.9,1407.7) scale(1.025,1)" text-anchor="middle" font-size="39">30</text>
<text transform="translate(1949.7,1407.7) scale(1.025,1)" text-anchor="middle" font-size="39">40</text>
<text transform="translate(1579.6,1438.4) scale(1.025,1)" font-size="39">d<tspan font-size="27.2" dy="13">s</tspan><tspan dy="-13"> (nm)</tspan></text>
<text transform="translate(1093.2,1110.4) rotate(-90) scale(1.025,1)" font-size="39">H<tspan font-size="27.2" dy="13">ns</tspan><tspan dy="-13" dx="1" letter-spacing="1.25"> (Oe)</tspan></text>
</g>
<g>
<rect x="328.93" y="134.72" width="16" height="16" fill="#000"/>
<rect x="359.15" y="260.98" width="16" height="16" fill="#000"/>
<rect x="389.38" y="365.98" width="16" height="16" fill="#000"/>
<rect x="419.6" y="419.17" width="16" height="16" fill="#000"/>
<rect x="449.83" y="452.87" width="16" height="16" fill="#000"/>
<rect x="480.06" y="471.67" width="16" height="16" fill="#000"/>
<rect x="525.39" y="489.34" width="16" height="16" fill="#000"/>
<rect x="600.96" y="507.32" width="16" height="16" fill="#000"/>
<rect x="676.52" y="515.39" width="16" height="16" fill="#000"/>
<rect x="752.09" y="520.5" width="16" height="16" fill="#000"/>
<rect x="827.65" y="523.89" width="16" height="16" fill="#000"/>
<rect x="903.22" y="527" width="16" height="16" fill="#000"/>
<rect x="489.2" y="68.6" width="16" height="16" fill="#000"/>
<rect x="328.93" y="898.9" width="16" height="16" fill="#000"/>
<rect x="359.15" y="1021.4" width="16" height="16" fill="#000"/>
<rect x="389.38" y="1114.5" width="16" height="16" fill="#000"/>
<rect x="419.6" y="1159.59" width="16" height="16" fill="#000"/>
<rect x="449.83" y="1187.9" width="16" height="16" fill="#000"/>
<rect x="480.06" y="1216.2" width="16" height="16" fill="#000"/>
<rect x="525.39" y="1235.61" width="16" height="16" fill="#000"/>
<rect x="600.96" y="1261.61" width="16" height="16" fill="#000"/>
<rect x="676.52" y="1272.79" width="16" height="16" fill="#000"/>
<rect x="752.09" y="1279.8" width="16" height="16" fill="#000"/>
<rect x="827.65" y="1284.9" width="16" height="16" fill="#000"/>
<rect x="903.22" y="1290.69" width="16" height="16" fill="#000"/>
<rect x="479.7" y="843.4" width="16" height="16" fill="#000"/>
<rect x="1368.17" y="134.97" width="15.5" height="15.5" fill="#000"/>
<rect x="1398.38" y="261.23" width="15.5" height="15.5" fill="#000"/>
<rect x="1428.6" y="366.23" width="15.5" height="15.5" fill="#000"/>
<rect x="1458.81" y="419.42" width="15.5" height="15.5" fill="#000"/>
<rect x="1489.03" y="453.12" width="15.5" height="15.5" fill="#000"/>
<rect x="1519.25" y="471.92" width="15.5" height="15.5" fill="#000"/>
<rect x="1564.57" y="489.59" width="15.5" height="15.5" fill="#000"/>
<rect x="1640.11" y="507.57" width="15.5" height="15.5" fill="#000"/>
<rect x="1715.65" y="515.64" width="15.5" height="15.5" fill="#000"/>
<rect x="1791.19" y="520.75" width="15.5" height="15.5" fill="#000"/>
<rect x="1866.73" y="524.14" width="15.5" height="15.5" fill="#000"/>
<rect x="1942.27" y="527.25" width="15.5" height="15.5" fill="#000"/>
<rect x="1524.85" y="72.85" width="15.5" height="15.5" fill="#000"/>
<rect x="1361.31" y="862.74" width="15.5" height="15.5" fill="#000"/>
<rect x="1391.87" y="994.85" width="15.5" height="15.5" fill="#000"/>
<rect x="1422.43" y="1096.49" width="15.5" height="15.5" fill="#000"/>
<rect x="1452.99" y="1144.53" width="15.5" height="15.5" fill="#000"/>
<rect x="1483.55" y="1174.55" width="15.5" height="15.5" fill="#000"/>
<rect x="1514.11" y="1204.57" width="15.5" height="15.5" fill="#000"/>
<rect x="1559.95" y="1227.35" width="15.5" height="15.5" fill="#000"/>
<rect x="1636.35" y="1255.35" width="15.5" height="15.5" fill="#000"/>
<rect x="1712.75" y="1267.16" width="15.5" height="15.5" fill="#000"/>
<rect x="1789.15" y="1274.96" width="15.5" height="15.5" fill="#000"/>
<rect x="1865.55" y="1279.52" width="15.5" height="15.5" fill="#000"/>
<rect x="1941.95" y="1285.75" width="15.5" height="15.5" fill="#000"/>
<rect x="1502.35" y="835.05" width="15.5" height="15.5" fill="#000"/>
</g>
<g class="soft">
<path d="M336.93,77.19 L336.93,77.29 L336.94,77.61 L336.96,78.14 L336.98,78.87 L337.02,79.82 L337.06,80.97 L337.1,82.32 L337.16,83.88 L337.22,85.63 L337.28,87.58 L337.36,89.71 L337.44,92.04 L337.53,94.54 L337.63,97.22 L337.73,100.07 L337.84,103.09 L337.96,106.27 L338.09,109.6 L338.22,113.09 L338.36,116.71 L338.51,120.47 L338.66,124.36 L338.82,128.38 L338.99,132.51 L339.17,136.75 L339.35,141.09 L339.54,145.53 L339.74,150.06 L339.94,154.67 L340.16,159.36 L340.38,164.11 L340.6,168.93 L340.83,173.81 L341.08,178.73 L341.32,183.7 L341.58,188.71 L341.84,193.75 L342.11,198.81 L342.39,203.89 L342.67,208.99 L342.96,214.1 L343.26,219.21 L343.56,224.32 L343.87,229.43 L344.19,234.53 L344.52,239.61 L344.85,244.68 L345.2,249.72 L345.54,254.73 L345.9,259.72 L346.26,264.68 L346.63,269.6 L347.01,274.48 L347.39,279.32 L347.78,284.11 L348.18,288.86 L348.59,293.56 L349,298.21 L349.42,302.81 L349.85,307.36 L350.28,311.84 L350.72,316.28 L351.17,320.65 L351.63,324.97 L352.09,329.22 L352.56,333.41 L353.04,337.55 L353.52,341.62 L354.01,345.62 L354.51,349.57 L355.02,353.45 L355.53,357.27 L356.05,361.02 L356.58,364.71 L357.12,368.34 L357.66,371.9 L358.21,375.4 L358.76,378.84 L359.33,382.21 L359.9,385.52 L360.48,388.77 L361.06,391.96 L361.65,395.09 L362.25,398.16 L362.86,401.17 L363.47,404.12 L364.09,407.01 L364.72,409.85 L365.36,412.62 L366,415.35 L366.65,418.01 L367.31,420.62 L367.97,423.18 L368.64,425.69 L369.32,428.14 L370.01,430.55 L370.7,432.9 L371.4,435.2 L372.11,437.46 L372.82,439.66 L373.54,441.82 L374.27,443.94 L375.01,446.01 L375.75,448.03 L376.5,450.01 L377.26,451.95 L378.02,453.85 L378.79,455.7 L379.57,457.52 L380.36,459.29 L381.15,461.03 L381.95,462.73 L382.76,464.39 L383.57,466.01 L384.39,467.6 L385.22,469.16 L386.06,470.68 L386.9,472.17 L387.75,473.62 L388.61,475.05 L389.48,476.44 L390.35,477.8 L391.23,479.13 L392.12,480.44 L393.01,481.71 L393.91,482.96 L394.82,484.18 L395.73,485.37 L396.66,486.53 L397.59,487.68 L398.52,488.79 L399.47,489.88 L400.42,490.95 L401.38,491.99 L402.34,493.02 L403.31,494.02 L404.29,494.99 L405.28,495.95 L406.28,496.89 L407.28,497.8 L408.29,498.7 L409.3,499.57 L410.32,500.43 L411.35,501.27 L412.39,502.09 L413.44,502.89 L414.49,503.68 L415.55,504.45 L416.61,505.2 L417.69,505.94 L418.77,506.66 L419.85,507.37 L420.95,508.06 L422.05,508.74 L423.16,509.4 L424.28,510.05 L425.4,510.68 L426.53,511.3 L427.67,511.91 L428.81,512.51 L429.97,513.09 L431.12,513.66 L432.29,514.22 L433.46,514.77 L434.65,515.31 L435.83,515.83 L437.03,516.35 L438.23,516.85 L439.44,517.35 L440.66,517.83 L441.88,518.3 L443.11,518.77 L444.35,519.22 L445.6,519.67 L446.85,520.11 L448.11,520.53 L449.38,520.95 L450.65,521.36 L451.93,521.77 L453.22,522.16 L454.52,522.55 L455.82,522.93 L457.13,523.3 L458.45,523.67 L459.77,524.02 L461.1,524.37 L462.44,524.72 L463.79,525.05 L465.14,525.39 L466.5,525.71 L467.87,526.03 L469.24,526.34 L470.63,526.64 L472.01,526.94 L473.41,527.24 L474.81,527.53 L476.22,527.81 L477.64,528.09 L479.07,528.36 L480.5,528.63 L481.94,528.89 L483.39,529.15 L484.84,529.4 L486.3,529.65 L487.77,529.89 L489.24,530.13 L490.73,530.36 L492.22,530.59 L493.71,530.82 L495.22,531.04 L496.73,531.26 L498.25,531.47 L499.77,531.68 L501.3,531.89 L502.84,532.09 L504.39,532.29 L505.94,532.49 L507.51,532.68 L509.07,532.87 L510.65,533.05 L512.23,533.23 L513.82,533.41 L515.42,533.59 L517.02,533.76 L518.64,533.93 L520.26,534.09 L521.88,534.26 L523.51,534.42 L525.15,534.57 L526.8,534.73 L528.46,534.88 L530.12,535.03 L531.79,535.18 L533.46,535.32 L535.15,535.46 L536.84,535.6 L538.54,535.74 L540.24,535.88 L541.95,536.01 L543.67,536.14 L545.4,536.27 L547.13,536.39 L548.87,536.52 L550.62,536.64 L552.38,536.76 L554.14,536.88 L555.91,536.99 L557.68,537.11 L559.47,537.22 L561.26,537.33 L563.06,537.44 L564.86,537.54 L566.68,537.65 L568.5,537.75 L570.32,537.85 L572.16,537.95 L574,538.05 L575.85,538.15 L577.7,538.25 L579.57,538.34 L581.44,538.43 L583.31,538.52 L585.2,538.61 L587.09,538.7 L588.99,538.79 L590.89,538.87 L592.81,538.96 L594.73,539.04 L596.65,539.12 L598.59,539.2 L600.53,539.28 L602.48,539.36 L604.44,539.43 L606.4,539.51 L608.37,539.58 L610.35,539.66 L612.33,539.73 L614.32,539.8 L616.32,539.87 L618.33,539.94 L620.34,540 L622.36,540.07 L624.39,540.14 L626.43,540.2 L628.47,540.26 L630.52,540.33 L632.58,540.39 L634.64,540.45 L636.71,540.51 L638.79,540.57 L640.87,540.63 L642.97,540.69 L645.07,540.74 L647.17,540.8 L649.29,540.85 L651.41,540.91 L653.54,540.96 L655.67,541.01 L657.82,541.06 L659.97,541.12 L662.12,541.17 L664.29,541.22 L666.46,541.27 L668.64,541.31 L670.82,541.36 L673.02,541.41 L675.22,541.45 L677.42,541.5 L679.64,541.55 L681.86,541.59 L684.09,541.63 L686.33,541.68 L688.57,541.72 L690.82,541.76 L693.08,541.8 L695.34,541.84 L697.61,541.88 L699.89,541.92 L702.18,541.96 L704.47,542 L706.77,542.04 L709.08,542.08 L711.4,542.11 L713.72,542.15 L716.05,542.19 L718.39,542.22 L720.73,542.26 L723.08,542.29 L725.44,542.33 L727.8,542.36 L730.18,542.39 L732.56,542.43 L734.94,542.46 L737.34,542.49 L739.74,542.52 L742.15,542.55 L744.56,542.58 L746.99,542.61 L749.42,542.64 L751.85,542.67 L754.3,542.7 L756.75,542.73 L759.21,542.76 L761.67,542.79 L764.15,542.82 L766.63,542.84 L769.11,542.87 L771.61,542.9 L774.11,542.92 L776.62,542.95 L779.14,542.98 L781.66,543 L784.19,543.03 L786.73,543.05 L789.27,543.08 L791.82,543.1 L794.38,543.12 L796.95,543.15 L799.52,543.17 L802.1,543.19 L804.69,543.22 L807.29,543.24 L809.89,543.26 L812.5,543.28 L815.12,543.3 L817.74,543.33 L820.37,543.35 L823.01,543.37 L825.65,543.39 L828.31,543.41 L830.97,543.43 L833.63,543.45 L836.31,543.47 L838.99,543.49 L841.68,543.51 L844.37,543.53 L847.07,543.55 L849.78,543.56 L852.5,543.58 L855.23,543.6 L857.96,543.62 L860.7,543.64 L863.44,543.65 L866.2,543.67 L868.96,543.69 L871.72,543.7 L874.5,543.72 L877.28,543.74 L880.07,543.75 L882.86,543.77 L885.67,543.79 L888.48,543.8 L891.3,543.82 L894.12,543.83 L896.95,543.85 L899.79,543.86 L902.64,543.88 L905.49,543.89 L908.35,543.91 L911.22,543.92" fill="none" stroke="#ff0000" stroke-width="3.6" stroke-linejoin="round"/>
<line x1="448.4" y1="128.1" x2="546.9" y2="128.1" stroke="#ff0000" stroke-width="4.2"/>
<text transform="translate(554.6,91) scale(1.034,1)" text-anchor="start" font-size="39">experimental results</text>
<text transform="translate(554.6,142) scale(1.034,1)" text-anchor="start" font-size="39">fitting curve</text>
<text transform="translate(717,205) scale(1.04,1)" text-anchor="middle" font-size="39">25K</text>
<text transform="translate(718.2,297) scale(1.05,1)" text-anchor="middle" font-size="39">(a)</text>
<path d="M336.93,834.79 L336.93,834.9 L336.94,835.21 L336.96,835.74 L336.98,836.47 L337.02,837.41 L337.06,838.56 L337.1,839.91 L337.16,841.46 L337.22,843.21 L337.28,845.15 L337.36,847.28 L337.44,849.59 L337.53,852.09 L337.63,854.76 L337.73,857.61 L337.84,860.62 L337.96,863.79 L338.09,867.12 L338.22,870.6 L338.36,874.21 L338.51,877.97 L338.66,881.86 L338.82,885.86 L338.99,889.99 L339.17,894.23 L339.35,898.57 L339.54,903.01 L339.74,907.53 L339.94,912.15 L340.16,916.84 L340.38,921.59 L340.6,926.42 L340.83,931.3 L341.08,936.23 L341.32,941.21 L341.58,946.23 L341.84,951.28 L342.11,956.35 L342.39,961.45 L342.67,966.57 L342.96,971.69 L343.26,976.83 L343.56,981.96 L343.87,987.09 L344.19,992.21 L344.52,997.32 L344.85,1002.42 L345.2,1007.49 L345.54,1012.54 L345.9,1017.56 L346.26,1022.55 L346.63,1027.5 L347.01,1032.42 L347.39,1037.3 L347.78,1042.14 L348.18,1046.93 L348.59,1051.68 L349,1056.37 L349.42,1061.02 L349.85,1065.61 L350.28,1070.15 L350.72,1074.63 L351.17,1079.06 L351.63,1083.42 L352.09,1087.73 L352.56,1091.98 L353.04,1096.17 L353.52,1100.3 L354.01,1104.36 L354.51,1108.36 L355.02,1112.3 L355.53,1116.18 L356.05,1119.99 L356.58,1123.74 L357.12,1127.43 L357.66,1131.06 L358.21,1134.62 L358.76,1138.12 L359.33,1141.55 L359.9,1144.93 L360.48,1148.24 L361.06,1151.5 L361.65,1154.69 L362.25,1157.82 L362.86,1160.89 L363.47,1163.91 L364.09,1166.87 L364.72,1169.76 L365.36,1172.61 L366,1175.39 L366.65,1178.12 L367.31,1180.8 L367.97,1183.42 L368.64,1185.99 L369.32,1188.51 L370.01,1190.97 L370.7,1193.39 L371.4,1195.75 L372.11,1198.07 L372.82,1200.34 L373.54,1202.56 L374.27,1204.74 L375.01,1206.87 L375.75,1208.95 L376.5,1210.99 L377.26,1212.99 L378.02,1214.94 L378.79,1216.86 L379.57,1218.73 L380.36,1220.56 L381.15,1222.36 L381.95,1224.11 L382.76,1225.83 L383.57,1227.51 L384.39,1229.16 L385.22,1230.77 L386.06,1232.34 L386.9,1233.88 L387.75,1235.39 L388.61,1236.87 L389.48,1238.31 L390.35,1239.72 L391.23,1241.11 L392.12,1242.46 L393.01,1243.78 L393.91,1245.08 L394.82,1246.35 L395.73,1247.59 L396.66,1248.8 L397.59,1249.99 L398.52,1251.15 L399.47,1252.29 L400.42,1253.4 L401.38,1254.49 L402.34,1255.56 L403.31,1256.6 L404.29,1257.62 L405.28,1258.62 L406.28,1259.6 L407.28,1260.55 L408.29,1261.49 L409.3,1262.41 L410.32,1263.31 L411.35,1264.18 L412.39,1265.04 L413.44,1265.89 L414.49,1266.71 L415.55,1267.52 L416.61,1268.31 L417.69,1269.08 L418.77,1269.84 L419.85,1270.58 L420.95,1271.31 L422.05,1272.02 L423.16,1272.71 L424.28,1273.4 L425.4,1274.06 L426.53,1274.72 L427.67,1275.36 L428.81,1275.99 L429.97,1276.6 L431.12,1277.2 L432.29,1277.79 L433.46,1278.37 L434.65,1278.94 L435.83,1279.49 L437.03,1280.04 L438.23,1280.57 L439.44,1281.09 L440.66,1281.6 L441.88,1282.11 L443.11,1282.6 L444.35,1283.08 L445.6,1283.55 L446.85,1284.01 L448.11,1284.47 L449.38,1284.91 L450.65,1285.35 L451.93,1285.78 L453.22,1286.2 L454.52,1286.61 L455.82,1287.01 L457.13,1287.41 L458.45,1287.79 L459.77,1288.17 L461.1,1288.55 L462.44,1288.91 L463.79,1289.27 L465.14,1289.62 L466.5,1289.97 L467.87,1290.31 L469.24,1290.64 L470.63,1290.96 L472.01,1291.28 L473.41,1291.6 L474.81,1291.91 L476.22,1292.21 L477.64,1292.5 L479.07,1292.8 L480.5,1293.08 L481.94,1293.36 L483.39,1293.64 L484.84,1293.91 L486.3,1294.17 L487.77,1294.43 L489.24,1294.69 L490.73,1294.94 L492.22,1295.19 L493.71,1295.43 L495.22,1295.67 L496.73,1295.9 L498.25,1296.13 L499.77,1296.35 L501.3,1296.57 L502.84,1296.79 L504.39,1297 L505.94,1297.21 L507.51,1297.42 L509.07,1297.62 L510.65,1297.82 L512.23,1298.02 L513.82,1298.21 L515.42,1298.4 L517.02,1298.58 L518.64,1298.76 L520.26,1298.94 L521.88,1299.12 L523.51,1299.29 L525.15,1299.46 L526.8,1299.63 L528.46,1299.79 L530.12,1299.95 L531.79,1300.11 L533.46,1300.27 L535.15,1300.42 L536.84,1300.57 L538.54,1300.72 L540.24,1300.87 L541.95,1301.01 L543.67,1301.15 L545.4,1301.29 L547.13,1301.43 L548.87,1301.56 L550.62,1301.69 L552.38,1301.82 L554.14,1301.95 L555.91,1302.08 L557.68,1302.2 L559.47,1302.32 L561.26,1302.44 L563.06,1302.56 L564.86,1302.68 L566.68,1302.79 L568.5,1302.9 L570.32,1303.01 L572.16,1303.12 L574,1303.23 L575.85,1303.33 L577.7,1303.44 L579.57,1303.54 L581.44,1303.64 L583.31,1303.74 L585.2,1303.84 L587.09,1303.93 L588.99,1304.03 L590.89,1304.12 L592.81,1304.21 L594.73,1304.3 L596.65,1304.39 L598.59,1304.48 L600.53,1304.56 L602.48,1304.65 L604.44,1304.73 L606.4,1304.81 L608.37,1304.9 L610.35,1304.98 L612.33,1305.05 L614.32,1305.13 L616.32,1305.21 L618.33,1305.28 L620.34,1305.36 L622.36,1305.43 L624.39,1305.5 L626.43,1305.57 L628.47,1305.64 L630.52,1305.71 L632.58,1305.78 L634.64,1305.85 L636.71,1305.91 L638.79,1305.98 L640.87,1306.04 L642.97,1306.1 L645.07,1306.17 L647.17,1306.23 L649.29,1306.29 L651.41,1306.35 L653.54,1306.41 L655.67,1306.46 L657.82,1306.52 L659.97,1306.58 L662.12,1306.63 L664.29,1306.69 L666.46,1306.74 L668.64,1306.79 L670.82,1306.85 L673.02,1306.9 L675.22,1306.95 L677.42,1307 L679.64,1307.05 L681.86,1307.1 L684.09,1307.15 L686.33,1307.19 L688.57,1307.24 L690.82,1307.29 L693.08,1307.33 L695.34,1307.38 L697.61,1307.42 L699.89,1307.47 L702.18,1307.51 L704.47,1307.55 L706.77,1307.59 L709.08,1307.64 L711.4,1307.68 L713.72,1307.72 L716.05,1307.76 L718.39,1307.8 L720.73,1307.83 L723.08,1307.87 L725.44,1307.91 L727.8,1307.95 L730.18,1307.99 L732.56,1308.02 L734.94,1308.06 L737.34,1308.09 L739.74,1308.13 L742.15,1308.16 L744.56,1308.2 L746.99,1308.23 L749.42,1308.26 L751.85,1308.3 L754.3,1308.33 L756.75,1308.36 L759.21,1308.39 L761.67,1308.42 L764.15,1308.46 L766.63,1308.49 L769.11,1308.52 L771.61,1308.55 L774.11,1308.58 L776.62,1308.6 L779.14,1308.63 L781.66,1308.66 L784.19,1308.69 L786.73,1308.72 L789.27,1308.74 L791.82,1308.77 L794.38,1308.8 L796.95,1308.82 L799.52,1308.85 L802.1,1308.87 L804.69,1308.9 L807.29,1308.93 L809.89,1308.95 L812.5,1308.97 L815.12,1309 L817.74,1309.02 L820.37,1309.05 L823.01,1309.07 L825.65,1309.09 L828.31,1309.11 L830.97,1309.14 L833.63,1309.16 L836.31,1309.18 L838.99,1309.2 L841.68,1309.22 L844.37,1309.25 L847.07,1309.27 L849.78,1309.29 L852.5,1309.31 L855.23,1309.33 L857.96,1309.35 L860.7,1309.37 L863.44,1309.39 L866.2,1309.41 L868.96,1309.43 L871.72,1309.44 L874.5,1309.46 L877.28,1309.48 L880.07,1309.5 L882.86,1309.52 L885.67,1309.54 L888.48,1309.55 L891.3,1309.57 L894.12,1309.59 L896.95,1309.6 L899.79,1309.62 L902.64,1309.64 L905.49,1309.65 L908.35,1309.67 L911.22,1309.69" fill="none" stroke="#ff0000" stroke-width="3.6" stroke-linejoin="round"/>
<line x1="439" y1="902.8" x2="537.5" y2="902.8" stroke="#ff0000" stroke-width="4.2"/>
<text transform="translate(545.5,865.3) scale(1.034,1)" text-anchor="start" font-size="39">experimental results</text>
<text transform="translate(545.5,916.4) scale(1.034,1)" text-anchor="start" font-size="39">fitting curve</text>
<text transform="translate(662,981.7) scale(1.04,1)" text-anchor="middle" font-size="39">300K</text>
<text transform="translate(671.2,1065.2) scale(1.05,1)" text-anchor="middle" font-size="39">(b)</text>
<path d="M1375.92,121.77 L1375.92,121.8 L1375.93,121.89 L1375.95,122.04 L1375.97,122.25 L1376.01,122.52 L1376.05,122.85 L1376.09,123.24 L1376.15,123.69 L1376.21,124.2 L1376.27,124.76 L1376.35,125.39 L1376.43,126.07 L1376.52,126.81 L1376.62,127.6 L1376.72,128.45 L1376.83,129.36 L1376.95,130.33 L1377.08,131.34 L1377.21,132.42 L1377.35,133.54 L1377.5,134.72 L1377.65,135.95 L1377.81,137.24 L1377.98,138.57 L1378.16,139.95 L1378.34,141.38 L1378.53,142.86 L1378.73,144.39 L1378.93,145.96 L1379.15,147.58 L1379.36,149.25 L1379.59,150.96 L1379.82,152.71 L1380.06,154.5 L1380.31,156.33 L1380.57,158.21 L1380.83,160.12 L1381.1,162.07 L1381.37,164.06 L1381.66,166.08 L1381.95,168.14 L1382.25,170.23 L1382.55,172.35 L1382.86,174.51 L1383.18,176.69 L1383.51,178.91 L1383.84,181.15 L1384.18,183.42 L1384.53,185.72 L1384.89,188.04 L1385.25,190.39 L1385.62,192.76 L1386,195.15 L1386.38,197.56 L1386.77,199.99 L1387.17,202.44 L1387.57,204.91 L1387.99,207.4 L1388.41,209.9 L1388.83,212.41 L1389.27,214.94 L1389.71,217.49 L1390.16,220.04 L1390.61,222.61 L1391.08,225.18 L1391.55,227.76 L1392.02,230.35 L1392.51,232.95 L1393,235.56 L1393.5,238.17 L1394,240.78 L1394.52,243.4 L1395.04,246.02 L1395.56,248.64 L1396.1,251.26 L1396.64,253.89 L1397.19,256.51 L1397.75,259.13 L1398.31,261.75 L1398.88,264.37 L1399.46,266.98 L1400.04,269.59 L1400.63,272.2 L1401.23,274.8 L1401.84,277.39 L1402.45,279.98 L1403.07,282.56 L1403.7,285.13 L1404.34,287.69 L1404.98,290.25 L1405.63,292.79 L1406.29,295.33 L1406.95,297.85 L1407.62,300.37 L1408.3,302.87 L1408.98,305.36 L1409.68,307.84 L1410.38,310.3 L1411.08,312.76 L1411.8,315.2 L1412.52,317.62 L1413.25,320.03 L1413.98,322.43 L1414.73,324.81 L1415.48,327.18 L1416.23,329.53 L1417,331.87 L1417.77,334.19 L1418.55,336.49 L1419.33,338.78 L1420.13,341.05 L1420.93,343.3 L1421.73,345.54 L1422.55,347.76 L1423.37,349.97 L1424.2,352.15 L1425.03,354.32 L1425.88,356.47 L1426.73,358.6 L1427.59,360.72 L1428.45,362.81 L1429.32,364.89 L1430.2,366.95 L1431.09,368.99 L1431.98,371.02 L1432.88,373.02 L1433.79,375.01 L1434.7,376.98 L1435.63,378.93 L1436.56,380.86 L1437.49,382.77 L1438.44,384.67 L1439.39,386.54 L1440.34,388.4 L1441.31,390.24 L1442.28,392.06 L1443.26,393.86 L1444.25,395.64 L1445.24,397.41 L1446.24,399.16 L1447.25,400.89 L1448.27,402.6 L1449.29,404.29 L1450.32,405.96 L1451.36,407.62 L1452.4,409.26 L1453.45,410.88 L1454.51,412.48 L1455.58,414.07 L1456.65,415.64 L1457.73,417.19 L1458.82,418.72 L1459.91,420.24 L1461.01,421.74 L1462.12,423.22 L1463.24,424.69 L1464.36,426.14 L1465.49,427.57 L1466.63,428.99 L1467.77,430.39 L1468.92,431.77 L1470.08,433.14 L1471.25,434.49 L1472.42,435.82 L1473.6,437.14 L1474.79,438.45 L1475.99,439.73 L1477.19,441.01 L1478.4,442.27 L1479.61,443.51 L1480.84,444.74 L1482.07,445.95 L1483.31,447.15 L1484.55,448.33 L1485.8,449.5 L1487.06,450.66 L1488.33,451.8 L1489.6,452.93 L1490.88,454.04 L1492.17,455.14 L1493.47,456.23 L1494.77,457.3 L1496.08,458.36 L1497.4,459.4 L1498.72,460.44 L1500.05,461.46 L1501.39,462.47 L1502.74,463.46 L1504.09,464.44 L1505.45,465.42 L1506.82,466.37 L1508.19,467.32 L1509.57,468.26 L1510.96,469.18 L1512.36,470.09 L1513.76,470.99 L1515.17,471.88 L1516.59,472.75 L1518.01,473.62 L1519.44,474.48 L1520.88,475.32 L1522.33,476.15 L1523.78,476.98 L1525.24,477.79 L1526.71,478.59 L1528.18,479.38 L1529.66,480.17 L1531.15,480.94 L1532.65,481.7 L1534.15,482.45 L1535.66,483.2 L1537.18,483.93 L1538.71,484.65 L1540.24,485.37 L1541.78,486.07 L1543.32,486.77 L1544.88,487.46 L1546.44,488.14 L1548.01,488.81 L1549.58,489.47 L1551.16,490.12 L1552.75,490.77 L1554.35,491.4 L1555.96,492.03 L1557.57,492.65 L1559.18,493.27 L1560.81,493.87 L1562.44,494.47 L1564.08,495.06 L1565.73,495.64 L1567.38,496.21 L1569.04,496.78 L1570.71,497.34 L1572.39,497.89 L1574.07,498.44 L1575.76,498.98 L1577.46,499.51 L1579.16,500.04 L1580.87,500.55 L1582.59,501.07 L1584.32,501.57 L1586.05,502.07 L1587.79,502.56 L1589.54,503.05 L1591.29,503.53 L1593.06,504 L1594.83,504.47 L1596.6,504.93 L1598.38,505.39 L1600.18,505.84 L1601.97,506.28 L1603.78,506.72 L1605.59,507.16 L1607.41,507.59 L1609.24,508.01 L1611.07,508.43 L1612.91,508.84 L1614.76,509.24 L1616.61,509.65 L1618.47,510.04 L1620.34,510.43 L1622.22,510.82 L1624.1,511.2 L1626,511.58 L1627.89,511.95 L1629.8,512.32 L1631.71,512.68 L1633.63,513.04 L1635.56,513.4 L1637.49,513.75 L1639.43,514.09 L1641.38,514.43 L1643.34,514.77 L1645.3,515.1 L1647.27,515.43 L1649.25,515.76 L1651.23,516.08 L1653.22,516.39 L1655.22,516.71 L1657.23,517.01 L1659.24,517.32 L1661.26,517.62 L1663.29,517.92 L1665.32,518.21 L1667.36,518.5 L1669.41,518.79 L1671.47,519.07 L1673.53,519.35 L1675.6,519.63 L1677.68,519.9 L1679.76,520.17 L1681.86,520.44 L1683.96,520.7 L1686.06,520.96 L1688.17,521.22 L1690.3,521.47 L1692.42,521.72 L1694.56,521.97 L1696.7,522.21 L1698.85,522.45 L1701.01,522.69 L1703.17,522.93 L1705.34,523.16 L1707.52,523.39 L1709.7,523.62 L1711.9,523.84 L1714.1,524.06 L1716.3,524.28 L1718.52,524.5 L1720.74,524.71 L1722.97,524.93 L1725.2,525.14 L1727.44,525.34 L1729.69,525.55 L1731.95,525.75 L1734.21,525.95 L1736.49,526.14 L1738.76,526.34 L1741.05,526.53 L1743.34,526.72 L1745.64,526.91 L1747.95,527.1 L1750.26,527.28 L1752.59,527.46 L1754.91,527.64 L1757.25,527.82 L1759.59,527.99 L1761.94,528.16 L1764.3,528.34 L1766.67,528.5 L1769.04,528.67 L1771.42,528.84 L1773.8,529 L1776.2,529.16 L1778.6,529.32 L1781,529.48 L1783.42,529.63 L1785.84,529.79 L1788.27,529.94 L1790.71,530.09 L1793.15,530.24 L1795.6,530.39 L1798.06,530.53 L1800.52,530.68 L1803,530.82 L1805.47,530.96 L1807.96,531.1 L1810.46,531.24 L1812.96,531.37 L1815.46,531.51 L1817.98,531.64 L1820.5,531.77 L1823.03,531.9 L1825.57,532.03 L1828.11,532.16 L1830.66,532.28 L1833.22,532.41 L1835.79,532.53 L1838.36,532.65 L1840.94,532.77 L1843.53,532.89 L1846.12,533.01 L1848.72,533.12 L1851.33,533.24 L1853.95,533.35 L1856.57,533.46 L1859.2,533.58 L1861.84,533.69 L1864.48,533.79 L1867.13,533.9 L1869.79,534.01 L1872.46,534.11 L1875.13,534.22 L1877.81,534.32 L1880.5,534.42 L1883.19,534.52 L1885.9,534.62 L1888.61,534.72 L1891.32,534.82 L1894.04,534.91 L1896.78,535.01 L1899.51,535.1 L1902.26,535.2 L1905.01,535.29 L1907.77,535.38 L1910.54,535.47 L1913.31,535.56 L1916.09,535.65 L1918.88,535.74 L1921.67,535.82 L1924.48,535.91 L1927.29,535.99 L1930.1,536.08 L1932.93,536.16 L1935.76,536.24 L1938.6,536.32 L1941.44,536.41 L1944.29,536.48 L1947.15,536.56 L1950.02,536.64" fill="none" stroke="#ff0000" stroke-width="3.4" stroke-linejoin="round"/>
<line x1="1485" y1="132.4" x2="1583" y2="132.4" stroke="#ff0000" stroke-width="3.8"/>
<text transform="translate(1590.8,95.2) scale(1.034,1)" text-anchor="start" font-size="39">experimental results</text>
<text transform="translate(1590.8,145.2) scale(1.034,1)" text-anchor="start" font-size="39">fitting curve</text>
<text transform="translate(1726.7,224.4) scale(1.04,1)" text-anchor="middle" font-size="39">25K</text>
<text transform="translate(1718.8,298.4) scale(1.05,1)" text-anchor="middle" font-size="39">(c)</text>
<path d="M1369.06,858.13 L1369.06,858.15 L1369.07,858.23 L1369.09,858.35 L1369.12,858.53 L1369.15,858.75 L1369.19,859.03 L1369.24,859.35 L1369.29,859.72 L1369.35,860.15 L1369.42,860.62 L1369.5,861.14 L1369.58,861.71 L1369.67,862.32 L1369.77,862.99 L1369.88,863.7 L1369.99,864.46 L1370.11,865.27 L1370.24,866.12 L1370.37,867.02 L1370.51,867.97 L1370.66,868.96 L1370.82,869.99 L1370.98,871.07 L1371.15,872.2 L1371.33,873.36 L1371.51,874.57 L1371.71,875.83 L1371.91,877.12 L1372.11,878.45 L1372.33,879.83 L1372.55,881.24 L1372.78,882.7 L1373.01,884.19 L1373.26,885.72 L1373.51,887.28 L1373.76,888.89 L1374.03,890.53 L1374.3,892.2 L1374.58,893.91 L1374.87,895.65 L1375.16,897.43 L1375.46,899.24 L1375.77,901.07 L1376.09,902.94 L1376.41,904.84 L1376.74,906.77 L1377.08,908.73 L1377.42,910.71 L1377.77,912.72 L1378.13,914.76 L1378.5,916.82 L1378.87,918.91 L1379.25,921.02 L1379.64,923.15 L1380.04,925.31 L1380.44,927.48 L1380.85,929.68 L1381.27,931.9 L1381.69,934.13 L1382.12,936.39 L1382.56,938.66 L1383.01,940.94 L1383.46,943.25 L1383.92,945.57 L1384.39,947.9 L1384.87,950.24 L1385.35,952.6 L1385.84,954.97 L1386.34,957.36 L1386.84,959.75 L1387.35,962.15 L1387.87,964.56 L1388.4,966.98 L1388.93,969.41 L1389.47,971.85 L1390.02,974.29 L1390.58,976.73 L1391.14,979.19 L1391.71,981.64 L1392.29,984.1 L1392.87,986.57 L1393.46,989.03 L1394.06,991.5 L1394.67,993.97 L1395.28,996.44 L1395.9,998.91 L1396.53,1001.38 L1397.16,1003.85 L1397.81,1006.32 L1398.45,1008.78 L1399.11,1011.24 L1399.78,1013.7 L1400.45,1016.16 L1401.13,1018.61 L1401.81,1021.06 L1402.5,1023.5 L1403.21,1025.93 L1403.91,1028.36 L1404.63,1030.79 L1405.35,1033.21 L1406.08,1035.62 L1406.82,1038.02 L1407.56,1040.41 L1408.31,1042.8 L1409.07,1045.18 L1409.84,1047.54 L1410.61,1049.9 L1411.39,1052.25 L1412.18,1054.59 L1412.97,1056.92 L1413.77,1059.24 L1414.58,1061.55 L1415.4,1063.84 L1416.22,1066.13 L1417.05,1068.4 L1417.89,1070.66 L1418.74,1072.91 L1419.59,1075.15 L1420.45,1077.37 L1421.32,1079.58 L1422.19,1081.78 L1423.07,1083.96 L1423.96,1086.14 L1424.86,1088.29 L1425.76,1090.44 L1426.67,1092.57 L1427.59,1094.68 L1428.52,1096.78 L1429.45,1098.87 L1430.39,1100.94 L1431.34,1103 L1432.29,1105.05 L1433.25,1107.08 L1434.22,1109.09 L1435.2,1111.09 L1436.18,1113.07 L1437.17,1115.04 L1438.17,1117 L1439.18,1118.94 L1440.19,1120.86 L1441.21,1122.77 L1442.24,1124.66 L1443.27,1126.54 L1444.31,1128.4 L1445.36,1130.25 L1446.42,1132.08 L1447.48,1133.9 L1448.55,1135.7 L1449.63,1137.48 L1450.71,1139.25 L1451.8,1141.01 L1452.9,1142.75 L1454.01,1144.47 L1455.13,1146.18 L1456.25,1147.87 L1457.38,1149.55 L1458.51,1151.21 L1459.65,1152.86 L1460.8,1154.49 L1461.96,1156.11 L1463.13,1157.71 L1464.3,1159.29 L1465.48,1160.87 L1466.67,1162.42 L1467.86,1163.96 L1469.06,1165.49 L1470.27,1167 L1471.48,1168.5 L1472.71,1169.98 L1473.94,1171.45 L1475.18,1172.91 L1476.42,1174.35 L1477.67,1175.77 L1478.93,1177.18 L1480.2,1178.58 L1481.47,1179.96 L1482.75,1181.33 L1484.04,1182.69 L1485.34,1184.03 L1486.64,1185.35 L1487.95,1186.67 L1489.27,1187.97 L1490.59,1189.25 L1491.92,1190.53 L1493.26,1191.79 L1494.61,1193.03 L1495.96,1194.27 L1497.32,1195.49 L1498.69,1196.7 L1500.07,1197.89 L1501.45,1199.08 L1502.84,1200.25 L1504.24,1201.4 L1505.64,1202.55 L1507.05,1203.68 L1508.47,1204.8 L1509.9,1205.91 L1511.33,1207.01 L1512.77,1208.09 L1514.22,1209.17 L1515.68,1210.23 L1517.14,1211.28 L1518.61,1212.32 L1520.08,1213.34 L1521.57,1214.36 L1523.06,1215.36 L1524.56,1216.36 L1526.07,1217.34 L1527.58,1218.31 L1529.1,1219.27 L1530.63,1220.22 L1532.16,1221.16 L1533.7,1222.09 L1535.25,1223.01 L1536.81,1223.92 L1538.37,1224.82 L1539.95,1225.71 L1541.52,1226.59 L1543.11,1227.46 L1544.7,1228.32 L1546.3,1229.17 L1547.91,1230.01 L1549.53,1230.84 L1551.15,1231.66 L1552.78,1232.48 L1554.41,1233.28 L1556.06,1234.07 L1557.71,1234.86 L1559.37,1235.64 L1561.03,1236.4 L1562.71,1237.16 L1564.39,1237.91 L1566.07,1238.66 L1567.77,1239.39 L1569.47,1240.11 L1571.18,1240.83 L1572.9,1241.54 L1574.62,1242.24 L1576.35,1242.94 L1578.09,1243.62 L1579.84,1244.3 L1581.59,1244.97 L1583.35,1245.63 L1585.12,1246.28 L1586.89,1246.93 L1588.67,1247.57 L1590.46,1248.21 L1592.26,1248.83 L1594.06,1249.45 L1595.87,1250.06 L1597.69,1250.66 L1599.52,1251.26 L1601.35,1251.85 L1603.19,1252.44 L1605.04,1253.02 L1606.89,1253.59 L1608.75,1254.15 L1610.62,1254.71 L1612.5,1255.26 L1614.38,1255.81 L1616.27,1256.34 L1618.17,1256.88 L1620.07,1257.41 L1621.99,1257.93 L1623.91,1258.44 L1625.83,1258.95 L1627.77,1259.45 L1629.71,1259.95 L1631.66,1260.44 L1633.61,1260.93 L1635.58,1261.41 L1637.55,1261.89 L1639.53,1262.36 L1641.51,1262.82 L1643.5,1263.28 L1645.5,1263.74 L1647.51,1264.19 L1649.52,1264.63 L1651.54,1265.07 L1653.57,1265.51 L1655.61,1265.94 L1657.65,1266.36 L1659.7,1266.78 L1661.76,1267.2 L1663.83,1267.61 L1665.9,1268.01 L1667.98,1268.41 L1670.06,1268.81 L1672.16,1269.2 L1674.26,1269.59 L1676.37,1269.97 L1678.48,1270.35 L1680.61,1270.73 L1682.74,1271.1 L1684.87,1271.47 L1687.02,1271.83 L1689.17,1272.19 L1691.33,1272.54 L1693.5,1272.89 L1695.67,1273.24 L1697.85,1273.58 L1700.04,1273.92 L1702.23,1274.26 L1704.44,1274.59 L1706.65,1274.92 L1708.87,1275.24 L1711.09,1275.56 L1713.32,1275.88 L1715.56,1276.19 L1717.81,1276.5 L1720.06,1276.81 L1722.32,1277.11 L1724.59,1277.41 L1726.86,1277.71 L1729.15,1278 L1731.44,1278.29 L1733.73,1278.58 L1736.04,1278.87 L1738.35,1279.15 L1740.67,1279.42 L1743,1279.7 L1745.33,1279.97 L1747.67,1280.24 L1750.02,1280.51 L1752.37,1280.77 L1754.74,1281.03 L1757.11,1281.29 L1759.48,1281.54 L1761.87,1281.79 L1764.26,1282.04 L1766.66,1282.29 L1769.06,1282.53 L1771.48,1282.77 L1773.9,1283.01 L1776.32,1283.25 L1778.76,1283.48 L1781.2,1283.71 L1783.65,1283.94 L1786.11,1284.17 L1788.57,1284.39 L1791.04,1284.61 L1793.52,1284.83 L1796.01,1285.04 L1798.5,1285.26 L1801,1285.47 L1803.51,1285.68 L1806.02,1285.89 L1808.55,1286.09 L1811.08,1286.3 L1813.61,1286.5 L1816.16,1286.7 L1818.71,1286.89 L1821.27,1287.09 L1823.83,1287.28 L1826.4,1287.47 L1828.98,1287.66 L1831.57,1287.84 L1834.17,1288.03 L1836.77,1288.21 L1839.38,1288.39 L1841.99,1288.57 L1844.62,1288.75 L1847.25,1288.92 L1849.89,1289.1 L1852.53,1289.27 L1855.19,1289.44 L1857.85,1289.6 L1860.51,1289.77 L1863.19,1289.94 L1865.87,1290.1 L1868.56,1290.26 L1871.26,1290.42 L1873.96,1290.58 L1876.67,1290.73 L1879.39,1290.89 L1882.11,1291.04 L1884.85,1291.19 L1887.59,1291.34 L1890.33,1291.49 L1893.09,1291.64 L1895.85,1291.78 L1898.62,1291.93 L1901.39,1292.07 L1904.18,1292.21 L1906.97,1292.35 L1909.77,1292.49 L1912.57,1292.62 L1915.38,1292.76 L1918.2,1292.89 L1921.03,1293.02 L1923.87,1293.16 L1926.71,1293.29 L1929.56,1293.41 L1932.41,1293.54 L1935.27,1293.67 L1938.15,1293.79 L1941.02,1293.92 L1943.91,1294.04 L1946.8,1294.16 L1949.7,1294.28" fill="none" stroke="#ff0000" stroke-width="3.4" stroke-linejoin="round"/>
<line x1="1463.1" y1="894.4" x2="1559.3" y2="894.4" stroke="#ff0000" stroke-width="3.8"/>
<text transform="translate(1567.3,856.6) scale(1.034,1)" text-anchor="start" font-size="39">experimental results</text>
<text transform="translate(1567.3,907.4) scale(1.034,1)" text-anchor="start" font-size="39">fitting curve</text>
<text transform="translate(1698.8,992.5) scale(1.04,1)" text-anchor="middle" font-size="39">300K</text>
<text transform="translate(1705,1067.9) scale(1.05,1)" text-anchor="middle" font-size="39">(d)</text>
</g>
</svg>
</body>
</html>
